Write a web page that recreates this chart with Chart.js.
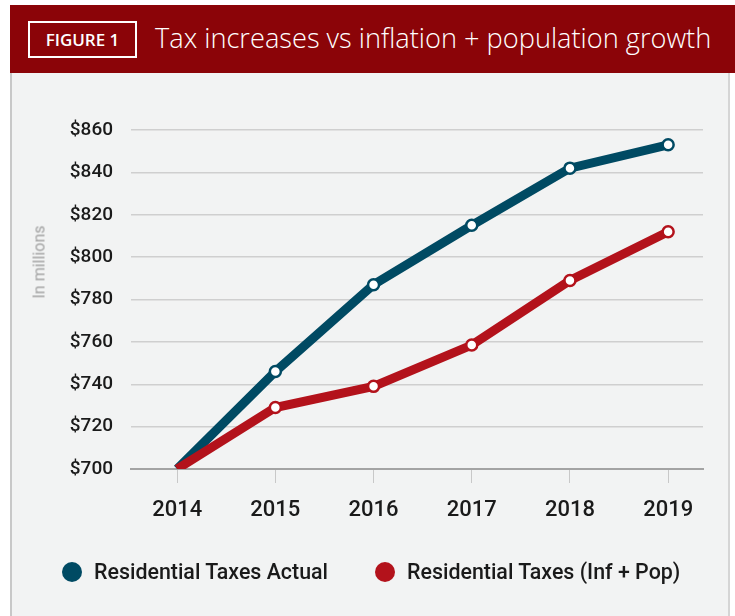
<!DOCTYPE html>
<html>
<head>
<meta charset="utf-8">
<script src="https://cdn.jsdelivr.net/npm/chart.js@4"></script>
<style>
  html, body { margin: 0; padding: 0; background: #ffffff; }
  body { width: 735px; height: 616px; position: relative; overflow: hidden; font-family: Roboto, "Open Sans", sans-serif; }
  .header { position: absolute; left: 10px; top: 5px; width: 725px; height: 68px; background: #8b0408; }
  .badge { position: absolute; left: 18px; top: 16px; width: 105px; height: 33px; border: 2px solid #ffffff;
    color: #ffffff; font-family: "Open Sans", sans-serif; font-weight: 600; font-size: 17px; line-height: 33px; text-align: center; }
  .title { position: absolute; left: 145px; top: 14px; color: #ffffff; font-family: "Open Sans", sans-serif;
    font-weight: 300; font-size: 27.2px; line-height: 38px; white-space: nowrap; }
  .panel { position: absolute; left: 10px; top: 73px; width: 716px; height: 543px; background: #f2f3f3;
    border-left: 2px solid #c8c8c8; border-right: 2px solid #d5d5d5; }
  .panel canvas { position: absolute; left: 0; top: 0; }
  .ytitle { position: absolute; left: 39px; top: 262px; transform: translate(-50%, -50%) rotate(-90deg);
    color: #a2a2a2; font-size: 16px; white-space: nowrap; }
  .legend { position: absolute; top: 560px; font-size: 21.4px; font-weight: 500; color: #1a1a1a; white-space: nowrap; }
  .legend span.dot { position: absolute; left: 0; top: 2px; width: 20px; height: 20px; border-radius: 50%; }
  .legend span.txt { position: absolute; left: 32px; top: 0; line-height: 24px; }
</style>
</head>
<body>
<div class="header">
  <div class="badge">FIGURE 1</div>
  <div class="title">Tax increases vs inflation + population growth</div>
</div>
<div class="panel">
  <canvas id="chart" width="716" height="543"></canvas>
</div>
<div class="ytitle">In millions</div>
<div id="legend"></div>
<script>
const years = [2014, 2015, 2016, 2017, 2018, 2019];
const actualTaxes = [700, 746, 787, 815, 842, 853];
const infPopTaxes = [700, 729, 739, 758.5, 789, 812];
const seriesNames = ["Residential Taxes Actual", "Residential Taxes (Inf + Pop)"];
const seriesColors = ["#004a63", "#b3121b"];
const yTicks = [700, 720, 740, 760, 780, 800, 820, 840, 860];

const toPoints = (values) => years.map((year, i) => ({ x: year, y: values[i] }));
// no marker on the first year, the lines just start at the axis
const markerRadius = years.map((_, i) => (i === 0 ? 0 : 5.5));
const markerBorder = years.map((_, i) => (i === 0 ? 0 : 2.5));

// legend drawn as plain html so item spacing matches the figure
const legendX = [62, 375];
document.getElementById("legend").innerHTML = seriesNames
  .map((name, i) => `<div class="legend" style="left:${legendX[i]}px"><span class="dot" style="background:${seriesColors[i]}"></span><span class="txt">${name}</span></div>`)
  .join("");

const makeDataset = (label, values, color, order) => ({
  label,
  data: toPoints(values),
  order,
  borderColor: color,
  backgroundColor: color,
  borderWidth: 9,
  pointRadius: markerRadius,
  pointHoverRadius: markerRadius,
  pointBackgroundColor: "#ffffff",
  pointBorderColor: color,
  pointBorderWidth: markerBorder,
  tension: 0,
  clip: 0,
});

new Chart(document.getElementById("chart"), {
  type: "line",
  data: {
    datasets: [
      makeDataset(seriesNames[0], actualTaxes, seriesColors[0], 2),
      makeDataset(seriesNames[1], infPopTaxes, seriesColors[1], 1),
    ],
  },
  options: {
    responsive: false,
    animation: false,
    layout: { padding: { top: 57, right: 25, left: 0, bottom: 0 } },
    plugins: { legend: { display: false }, tooltip: { enabled: false } },
    scales: {
      x: {
        type: "linear",
        min: 2013.53,
        max: 2019.355,
        afterBuildTicks: (scale) => { scale.ticks = years.map((v) => ({ value: v })); },
        afterFit: (scale) => { scale.height = 147; },
        grid: { drawOnChartArea: false, drawTicks: true, tickLength: 14, color: "#c8c8c8", lineWidth: 1 },
        border: { display: true, color: "#a3a3a3", width: 2 },
        ticks: {
          color: "#1a1a1a",
          padding: 14,
          font: { family: "Roboto", size: 22, weight: 500 },
          callback: (value) => String(value),
        },
      },
      y: {
        min: 700,
        max: 860,
        afterBuildTicks: (scale) => { scale.ticks = yTicks.map((v) => ({ value: v })); },
        afterFit: (scale) => { scale.width = 119; },
        grid: { drawTicks: false, color: (ctx) => (ctx.index === 0 ? "rgba(0,0,0,0)" : "#cfcfcf"), lineWidth: 1.5 },
        border: { display: false },
        ticks: {
          color: "#1a1a1a",
          padding: 18,
          font: { family: "Roboto", size: 19, weight: 500 },
          callback: (value) => "$" + value,
        },
      },
    },
  },
});
</script>
</body>
</html>
